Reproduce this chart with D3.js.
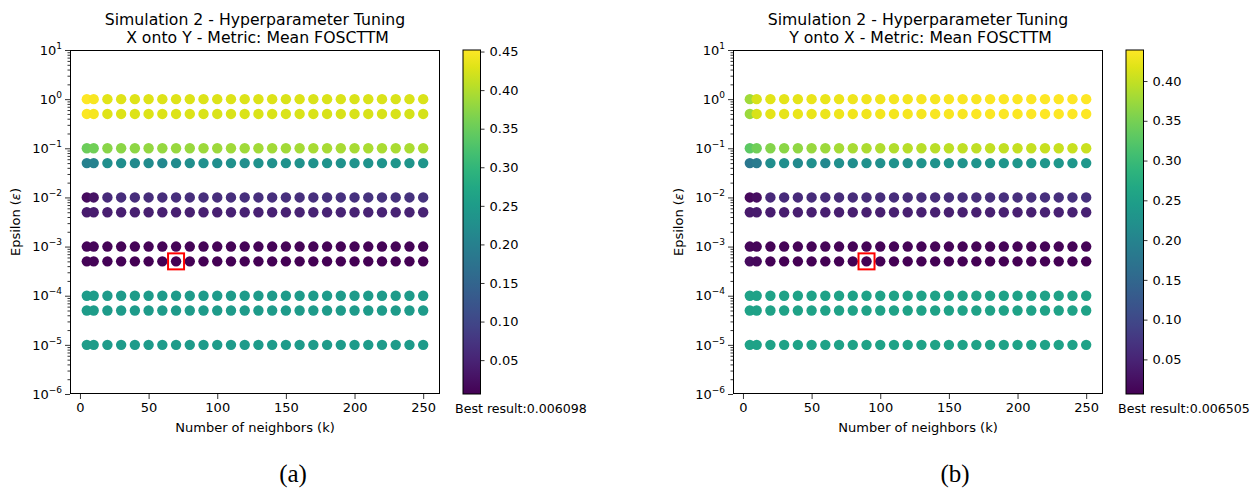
<!DOCTYPE html>
<html>
<head>
<meta charset="utf-8">
<script src="https://cdn.jsdelivr.net/npm/d3@7"></script>
<style>
  body { margin: 0; background: #fff; }
  svg { display: block; font-family: "DejaVu Sans", sans-serif; }
  text { white-space: pre; }
</style>
</head>
<body>
<div id="chart"></div>
<script>
// grid of hyperparameters
const kValues = [5, 10, 20, 30, 40, 50, 60, 70, 80, 90, 100, 110, 120, 130, 140, 150, 160, 170, 180, 190, 200, 210, 220, 230, 240, 250];
const epsValues = [1, 0.5, 0.1, 0.05, 0.01, 0.005, 0.001, 0.0005, 0.0001, 0.00005, 0.00001];

// mean FOSCTTM, one row per epsilon, one value per k  (X onto Y)
const foscttmXY = [
  [0.452, 0.448, 0.432, 0.431, 0.430, 0.430, 0.429, 0.430, 0.429, 0.429, 0.428, 0.429, 0.428, 0.428, 0.428, 0.427, 0.428, 0.427, 0.427, 0.427, 0.426, 0.427, 0.426, 0.426, 0.426, 0.426],
  [0.450, 0.446, 0.430, 0.429, 0.429, 0.428, 0.428, 0.428, 0.428, 0.427, 0.427, 0.427, 0.427, 0.426, 0.426, 0.426, 0.426, 0.426, 0.425, 0.425, 0.425, 0.425, 0.425, 0.425, 0.424, 0.424],
  [0.352, 0.356, 0.372, 0.374, 0.377, 0.379, 0.381, 0.383, 0.384, 0.386, 0.387, 0.388, 0.389, 0.390, 0.391, 0.391, 0.392, 0.393, 0.393, 0.394, 0.394, 0.395, 0.395, 0.396, 0.396, 0.397],
  [0.200, 0.204, 0.226, 0.224, 0.218, 0.222, 0.214, 0.220, 0.226, 0.228, 0.224, 0.230, 0.226, 0.232, 0.230, 0.233, 0.231, 0.234, 0.235, 0.234, 0.236, 0.236, 0.237, 0.238, 0.238, 0.239],
  [0.020, 0.028, 0.060, 0.062, 0.062, 0.063, 0.063, 0.064, 0.064, 0.065, 0.065, 0.065, 0.066, 0.066, 0.066, 0.067, 0.067, 0.067, 0.068, 0.068, 0.068, 0.069, 0.069, 0.069, 0.070, 0.070],
  [0.038, 0.040, 0.044, 0.044, 0.045, 0.045, 0.045, 0.046, 0.046, 0.046, 0.046, 0.047, 0.047, 0.047, 0.047, 0.047, 0.048, 0.048, 0.048, 0.048, 0.048, 0.049, 0.049, 0.049, 0.049, 0.049],
  [0.013, 0.012, 0.011, 0.011, 0.011, 0.011, 0.011, 0.011, 0.011, 0.011, 0.011, 0.011, 0.011, 0.011, 0.011, 0.011, 0.011, 0.011, 0.011, 0.011, 0.011, 0.011, 0.011, 0.011, 0.011, 0.011],
  [0.011, 0.010, 0.008, 0.008, 0.007, 0.007, 0.007, 0.006098, 0.007, 0.007, 0.007, 0.007, 0.007, 0.007, 0.007, 0.007, 0.007, 0.007, 0.007, 0.007, 0.007, 0.007, 0.007, 0.007, 0.007, 0.007],
  [0.250, 0.250, 0.249, 0.249, 0.250, 0.249, 0.249, 0.249, 0.249, 0.249, 0.249, 0.249, 0.249, 0.249, 0.249, 0.249, 0.249, 0.249, 0.249, 0.249, 0.249, 0.249, 0.249, 0.249, 0.249, 0.249],
  [0.250, 0.250, 0.249, 0.249, 0.249, 0.249, 0.249, 0.249, 0.249, 0.249, 0.249, 0.249, 0.249, 0.249, 0.249, 0.249, 0.249, 0.249, 0.249, 0.249, 0.249, 0.249, 0.249, 0.249, 0.249, 0.249],
  [0.250, 0.250, 0.249, 0.249, 0.249, 0.249, 0.249, 0.249, 0.249, 0.249, 0.249, 0.249, 0.249, 0.249, 0.249, 0.249, 0.249, 0.249, 0.249, 0.249, 0.249, 0.249, 0.249, 0.249, 0.249, 0.249]
];

// mean FOSCTTM  (Y onto X)
const foscttmYX = [
  [0.378, 0.412, 0.420, 0.421, 0.422, 0.424, 0.425, 0.427, 0.428, 0.429, 0.430, 0.431, 0.432, 0.433, 0.433, 0.434, 0.435, 0.435, 0.436, 0.436, 0.437, 0.437, 0.438, 0.438, 0.439, 0.439],
  [0.374, 0.412, 0.421, 0.423, 0.424, 0.425, 0.427, 0.428, 0.429, 0.430, 0.431, 0.432, 0.433, 0.433, 0.434, 0.435, 0.435, 0.436, 0.436, 0.437, 0.437, 0.438, 0.438, 0.438, 0.439, 0.439],
  [0.330, 0.345, 0.358, 0.364, 0.368, 0.372, 0.376, 0.380, 0.383, 0.386, 0.388, 0.390, 0.392, 0.393, 0.394, 0.396, 0.397, 0.398, 0.399, 0.400, 0.401, 0.401, 0.402, 0.403, 0.403, 0.404],
  [0.178, 0.184, 0.218, 0.220, 0.212, 0.222, 0.208, 0.222, 0.218, 0.224, 0.222, 0.226, 0.224, 0.228, 0.228, 0.230, 0.229, 0.231, 0.232, 0.232, 0.233, 0.234, 0.234, 0.235, 0.235, 0.236],
  [0.016, 0.022, 0.056, 0.058, 0.058, 0.059, 0.059, 0.060, 0.060, 0.061, 0.061, 0.061, 0.062, 0.062, 0.062, 0.063, 0.063, 0.063, 0.064, 0.064, 0.064, 0.065, 0.065, 0.065, 0.066, 0.066],
  [0.036, 0.038, 0.041, 0.041, 0.042, 0.042, 0.042, 0.043, 0.043, 0.043, 0.043, 0.044, 0.044, 0.044, 0.044, 0.044, 0.045, 0.045, 0.045, 0.045, 0.045, 0.045, 0.046, 0.046, 0.046, 0.046],
  [0.013, 0.012, 0.011, 0.011, 0.011, 0.011, 0.011, 0.011, 0.011, 0.011, 0.011, 0.011, 0.011, 0.011, 0.011, 0.011, 0.011, 0.011, 0.011, 0.011, 0.011, 0.011, 0.011, 0.011, 0.011, 0.011],
  [0.020, 0.016, 0.009, 0.008, 0.008, 0.008, 0.008, 0.008, 0.008, 0.006505, 0.008, 0.008, 0.008, 0.008, 0.008, 0.008, 0.008, 0.008, 0.008, 0.008, 0.008, 0.008, 0.008, 0.008, 0.008, 0.008],
  [0.256, 0.256, 0.256, 0.256, 0.256, 0.256, 0.256, 0.256, 0.256, 0.256, 0.256, 0.256, 0.256, 0.256, 0.256, 0.256, 0.256, 0.256, 0.256, 0.256, 0.256, 0.256, 0.256, 0.256, 0.256, 0.256],
  [0.256, 0.256, 0.256, 0.256, 0.256, 0.256, 0.256, 0.256, 0.256, 0.256, 0.256, 0.256, 0.256, 0.256, 0.256, 0.256, 0.256, 0.256, 0.256, 0.256, 0.256, 0.256, 0.256, 0.256, 0.256, 0.256],
  [0.256, 0.256, 0.256, 0.256, 0.256, 0.256, 0.256, 0.256, 0.256, 0.256, 0.256, 0.256, 0.256, 0.256, 0.256, 0.256, 0.256, 0.256, 0.256, 0.256, 0.256, 0.256, 0.256, 0.256, 0.256, 0.256]
];

const xTicks = [0, 50, 100, 150, 200, 250];
const yTickExps = [-6, -5, -4, -3, -2, -1, 0, 1];
const cbarTicksXY = [0.05, 0.10, 0.15, 0.20, 0.25, 0.30, 0.35, 0.40, 0.45];
const cbarTicksYX = [0.05, 0.10, 0.15, 0.20, 0.25, 0.30, 0.35, 0.40];

const panels = [
  { left: 70, title2: " X onto Y - Metric: Mean FOSCTTM", values: foscttmXY, cbTicks: cbarTicksXY, tag: "(a)", tagX: 293 },
  { left: 733, title2: " Y onto X - Metric: Mean FOSCTTM", values: foscttmYX, cbTicks: cbarTicksYX, tag: "(b)", tagX: 955 }
];

const W = 1252, H = 489;
const plotTop = 50, plotBottom = 394, plotW = 370;
const fs = 13;

const svg = d3.select('#chart').append('svg')
  .attr('width', W).attr('height', H);
svg.append('rect').attr('width', W).attr('height', H).attr('fill', '#fff');

panels.forEach((p, pi) => {
  const g = svg.append('g');
  const x = d3.scaleLinear().domain([-7.25, 262.25]).range([p.left, p.left + plotW]);
  const y = d3.scaleLog().domain([1e-6, 10]).range([plotBottom, plotTop]);

  const flat = [];
  p.values.forEach((row, i) => row.forEach((v, j) => flat.push({ k: kValues[j], eps: epsValues[i], v })));
  const vmin = d3.min(flat, d => d.v), vmax = d3.max(flat, d => d.v);
  const color = d3.scaleSequential(d3.interpolateViridis).domain([vmin, vmax]);
  const best = flat.find(d => d.v === vmin);

  // points
  g.append('g').selectAll('circle').data(flat).join('circle')
    .attr('cx', d => x(d.k)).attr('cy', d => y(d.eps)).attr('r', 5.2)
    .attr('fill', d => color(d.v));

  // best marker
  g.append('rect')
    .attr('x', x(best.k) - 8).attr('y', y(best.eps) - 8)
    .attr('width', 16).attr('height', 16)
    .attr('fill', 'none').attr('stroke', '#ff0000').attr('stroke-width', 2);

  // x axis
  const xAxis = g.append('g').attr('transform', `translate(0,${plotBottom})`)
    .call(d3.axisBottom(x).tickValues(xTicks).tickSize(5).tickPadding(4));
  xAxis.select('.domain').remove();
  xAxis.selectAll('text').attr('font-size', fs).attr('fill', '#000').attr('font-family', 'DejaVu Sans');

  // y axis, majors with 10^n labels
  const majors = yTickExps.map(e => Math.pow(10, e));
  const minors = [];
  for (let e = -6; e < 1; e++) for (let m = 2; m <= 9; m++) minors.push(m * Math.pow(10, e));
  const yMinor = g.append('g').attr('transform', `translate(${p.left},0)`)
    .call(d3.axisLeft(y).tickValues(minors).tickSize(2.5).tickFormat(''));
  yMinor.select('.domain').remove();
  const yAxis = g.append('g').attr('transform', `translate(${p.left},0)`)
    .call(d3.axisLeft(y).tickValues(majors).tickSize(5).tickPadding(3).tickFormat(''));
  yAxis.select('.domain').remove();
  yAxis.selectAll('.tick text').each(function(d, i) {
    const t = d3.select(this).attr('font-size', fs).attr('fill', '#000').attr('font-family', 'DejaVu Sans');
    const e = yTickExps[i];
    t.append('tspan').text('10');
    t.append('tspan').attr('dy', -6).attr('font-size', 9).text(e < 0 ? '\u2212' + (-e) : String(e));
  });
  g.selectAll('.tick line').attr('stroke', '#000').attr('stroke-width', 0.8);

  // frame
  g.append('rect').attr('x', p.left + 0.5).attr('y', plotTop + 0.5)
    .attr('width', plotW - 1).attr('height', plotBottom - plotTop - 1)
    .attr('fill', 'none').attr('stroke', '#000').attr('stroke-width', 1);

  // titles and labels
  const cx = p.left + plotW / 2;
  g.append('text').attr('x', cx).attr('y', 24.5).attr('text-anchor', 'middle')
    .attr('font-size', 15.7).text('Simulation 2 - Hyperparameter Tuning');
  g.append('text').attr('x', cx).attr('y', 42.5).attr('text-anchor', 'middle')
    .attr('font-size', 15.7).text(p.title2);
  g.append('text').attr('x', cx).attr('y', 432).attr('text-anchor', 'middle')
    .attr('font-size', fs).text('Number of neighbors (k)');
  const yl = g.append('text').attr('transform', `translate(${p.left - 50},${(plotTop + plotBottom) / 2}) rotate(-90)`)
    .attr('text-anchor', 'middle').attr('font-size', fs);
  yl.append('tspan').text('Epsilon (');
  yl.append('tspan').attr('font-style', 'italic').text('\u03b5');
  yl.append('tspan').text(')');

  // colorbar
  const cbX = p.left + plotW + 23, cbW = 17.5;
  const gradId = 'viridis' + pi;
  const grad = svg.append('defs').append('linearGradient').attr('id', gradId)
    .attr('x1', 0).attr('y1', 1).attr('x2', 0).attr('y2', 0);
  d3.range(0, 1.0001, 0.05).forEach(t => grad.append('stop')
    .attr('offset', t).attr('stop-color', d3.interpolateViridis(t)));
  g.append('rect').attr('x', cbX).attr('y', plotTop).attr('width', cbW).attr('height', plotBottom - plotTop)
    .attr('fill', `url(#${gradId})`).attr('stroke', '#000').attr('stroke-width', 1);
  const cbScale = d3.scaleLinear().domain([vmin, vmax]).range([plotBottom, plotTop]);
  const cbAxis = g.append('g').attr('transform', `translate(${cbX + cbW},0)`)
    .call(d3.axisRight(cbScale).tickValues(p.cbTicks).tickSize(4).tickPadding(5).tickFormat(d3.format('.2f')));
  cbAxis.select('.domain').remove();
  cbAxis.selectAll('text').attr('font-size', fs).attr('fill', '#000').attr('font-family', 'DejaVu Sans');
  cbAxis.selectAll('line').attr('stroke', '#000').attr('stroke-width', 0.8);

  g.append('text').attr('x', cbX - 8).attr('y', 413).attr('font-size', 12.6)
    .text('Best result:' + d3.format('.6f')(vmin));

  // sub-figure tag
  g.append('text').attr('x', p.tagX).attr('y', 482).attr('text-anchor', 'middle')
    .attr('font-family', '"Liberation Serif", "DejaVu Serif", serif').attr('font-size', 25)
    .text(p.tag);
});
</script>
</body>
</html>
